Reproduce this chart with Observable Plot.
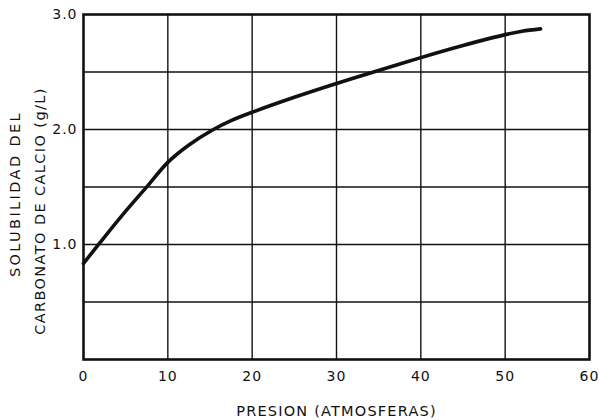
<!DOCTYPE html>
<html><head><meta charset="utf-8">
<script src="https://cdn.jsdelivr.net/npm/d3@7"></script>
<script src="https://cdn.jsdelivr.net/npm/@observablehq/plot@0.6"></script>
<style>
body{margin:0;background:#fff;}
svg{font-family:"DejaVu Sans",sans-serif;}
</style></head><body>
<div id="chart"></div>
<script>
const pressure = [0, 2, 5, 7.6, 10, 12.5, 15.4, 17.5, 20, 25, 30, 34.4, 40, 45, 50, 52, 54.2];
const solubility = [0.835, 1.02, 1.29, 1.51, 1.714, 1.865, 2.00, 2.077, 2.15, 2.28, 2.40, 2.50, 2.625, 2.73, 2.825, 2.855, 2.875];
const xTicks = [0, 10, 20, 30, 40, 50, 60];
const xGrid = [10, 20, 30, 40, 50];
const yTicks = [1.0, 2.0, 3.0];
const yGrid = [0.5, 1.0, 1.5, 2.0, 2.5];
const xLabel = "PRESION (ATMOSFERAS)";
const yLabel1 = "SOLUBILIDAD DEL";
const yLabel2 = "CARBONATO DE CALCIO (g/L)";

const data = pressure.map((p, i) => ({p, s: solubility[i]}));

const chart = Plot.plot({
  width: 599, height: 420,
  marginLeft: 83, marginRight: 10, marginTop: 14, marginBottom: 61,
  style: {fontFamily: "DejaVu Sans, sans-serif", color: "#111"},
  x: {domain: [0, 60]},
  y: {domain: [0, 3]},
  marks: [
    Plot.ruleX(xGrid, {stroke: "#111", strokeWidth: 1.4}),
    Plot.ruleY(yGrid, {stroke: "#111", strokeWidth: 1.4}),
    Plot.frame({stroke: "#111", strokeWidth: 2.6}),
    Plot.line(data, {x: "p", y: "s", curve: "catmull-rom", stroke: "#111", strokeWidth: 3.6}),
    Plot.axisX(xTicks, {tickSize: 0, tickPadding: 12, fontSize: 14, label: null, tickFormat: d => String(d)}),
    Plot.axisY(yTicks, {tickSize: 0, tickPadding: 6, fontSize: 14, label: null, tickFormat: d => d.toFixed(1)}),
    Plot.text([xLabel], {frameAnchor: "bottom", dy: 56, fontSize: 14.5, fill: "#111", className: "lbl-x"}),
    Plot.text([yLabel1], {frameAnchor: "left", textAnchor: "middle", rotate: -90, dx: -68, dy: 7, fontSize: 14.5, fill: "#111", className: "lbl-y1"}),
    Plot.text([yLabel2], {frameAnchor: "left", textAnchor: "middle", rotate: -90, dx: -43, dy: 24, fontSize: 14.5, fill: "#111", className: "lbl-y2"})
  ]
});
chart.querySelectorAll("text").forEach(t => t.setAttribute("letter-spacing", "1"));
chart.querySelectorAll(".lbl-x text").forEach(t => t.setAttribute("letter-spacing", "1.2"));
chart.querySelectorAll(".lbl-y1 text").forEach(t => t.setAttribute("letter-spacing", "2.4"));
chart.querySelectorAll(".lbl-y2 text").forEach(t => t.setAttribute("letter-spacing", "1.4"));
document.getElementById("chart").appendChild(chart);
</script>
</body></html>
